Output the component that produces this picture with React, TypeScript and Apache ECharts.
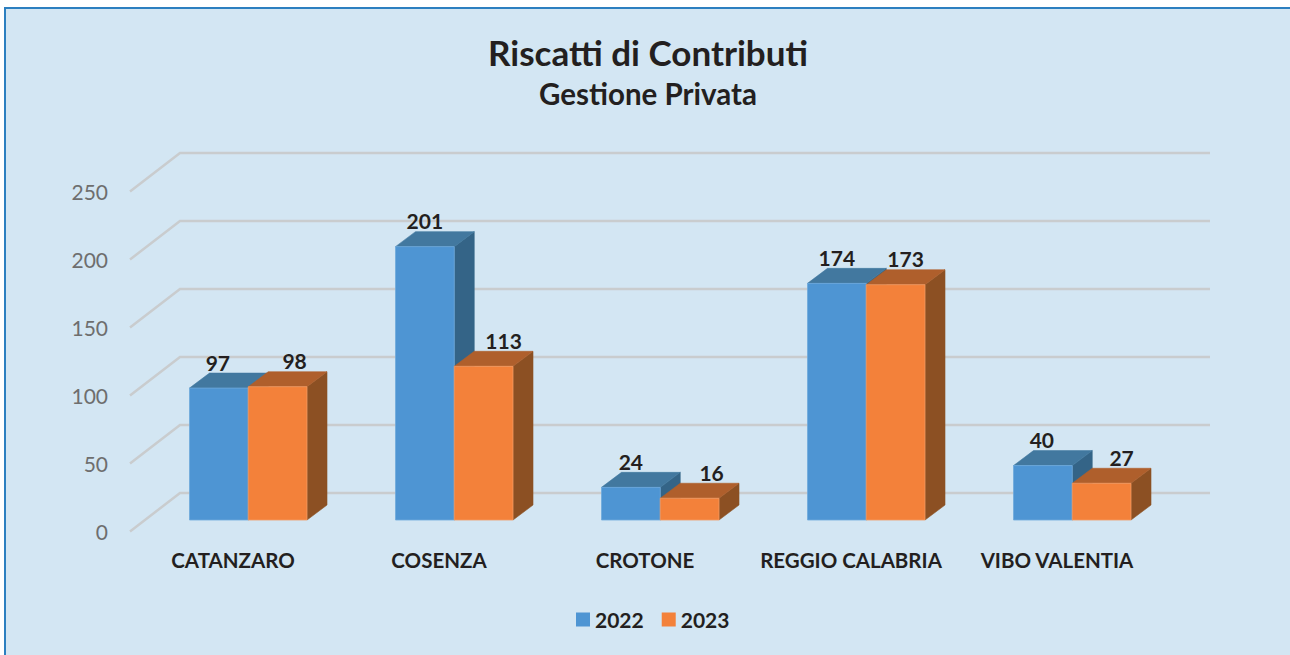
import React, { useEffect, useRef } from "react";
import * as echarts from "echarts";

const categories = ["CATANZARO", "COSENZA", "CROTONE", "REGGIO CALABRIA", "VIBO VALENTIA"];
const values2022 = [97, 201, 24, 174, 40];
const values2023 = [98, 113, 16, 173, 27];
const yTicks = [0, 50, 100, 150, 200, 250];
const labelNudge2022 = [-1, 0, 0, 0, -1];
const labelNudge2023 = [17, 20, 22, 10, 20];

const FONT = "Lato, sans-serif";
const INK = "#231F20";
const BAR_RATIO = 58.75 / 206;
const DEPTH_X = 20;
const DEPTH_Y = 15;
const FLOOR_X = 15.25;
const FLOOR_Y = -11.5;
const WALL_X = 50;
const WALL_Y = 38.5;

type Palette = { front: string; top: string; side: string; edge: string };
const BLUE: Palette = { front: "#4E95D3", top: "#42789F", side: "#346487", edge: "#6FA9DC" };
const ORANGE: Palette = { front: "#F3813A", top: "#AF5F2C", side: "#8C5023", edge: "#F29A63" };

const poly = (points: number[][], fill: string, stroke: string) => ({
  type: "polygon",
  shape: { points },
  style: { fill, stroke, lineWidth: 0.6 },
});

function barRenderer(palette: Palette, slot: number, nudges: number[]) {
  return (_params: any, api: any) => {
    const idx = api.value(0);
    const val = api.value(1);
    const top = api.coord([idx, val]);
    const base = api.coord([idx, 0]);
    const w = api.size([1, 0])[0] * BAR_RATIO;
    const x0 = top[0] + FLOOR_X + (slot - 1) * w;
    const x1 = x0 + w;
    const yT = top[1] + FLOOR_Y;
    const yB = base[1] + FLOOR_Y;
    return {
      type: "group",
      children: [
        poly([[x1, yT], [x1 + DEPTH_X, yT - DEPTH_Y], [x1 + DEPTH_X, yB - DEPTH_Y], [x1, yB]], palette.side, palette.side),
        poly([[x0, yT], [x0 + DEPTH_X, yT - DEPTH_Y], [x1 + DEPTH_X, yT - DEPTH_Y], [x1, yT]], palette.top, palette.top),
        {
          type: "rect",
          shape: { x: x0, y: yT, width: w, height: yB - yT },
          style: { fill: palette.front, stroke: palette.edge, lineWidth: 0.8 },
        },
        {
          type: "text",
          style: {
            text: String(val),
            x: (x0 + x1) / 2 + nudges[idx],
            y: yT - DEPTH_Y - 11,
            align: "center",
            verticalAlign: "middle",
            fill: INK,
            font: `bold 21px ${FONT}`,
          },
        },
      ],
    };
  };
}

function gridRenderer(params: any, api: any) {
  const cs = params.coordSys;
  const y = api.coord([0, api.value(0)])[1];
  return {
    type: "polyline",
    shape: {
      points: [
        [cs.x, y],
        [cs.x + WALL_X, y - WALL_Y],
        [cs.x + cs.width + WALL_X, y - WALL_Y],
      ],
    },
    style: { fill: "none", stroke: "#C9CCCE", lineWidth: 2.5 },
  };
}

export default function App() {
  const ref = useRef<HTMLDivElement>(null);
  useEffect(() => {
    const chart = echarts.init(ref.current!, undefined, { renderer: "svg" });
    chart.setOption({
      animation: false,
      backgroundColor: "#FFFFFF",
      graphic: [
        {
          type: "rect",
          z: -10,
          shape: { x: 5, y: 8, width: 1320, height: 680 },
          style: { fill: "#D3E6F3", stroke: "#2C7FC0", lineWidth: 2 },
        },
      ],
      title: [
        {
          text: "Riscatti di Contributi",
          left: 643,
          top: 29.5,
          textAlign: "center",
          textStyle: { fontFamily: FONT, fontWeight: "bold", fontSize: 35, color: INK },
        },
        {
          text: "Gestione Privata",
          left: 643,
          top: 73,
          textAlign: "center",
          textStyle: { fontFamily: FONT, fontWeight: "bold", fontSize: 29.5, color: INK },
        },
      ],
      legend: {
        left: 571,
        top: 604,
        data: ["2022", "2023"],
        icon: "rect",
        itemWidth: 14,
        itemHeight: 14,
        itemGap: 18,
        textStyle: { fontFamily: FONT, fontWeight: "bold", fontSize: 21, color: INK },
      },
      grid: { left: 130, top: 191.5, width: 1030, height: 340 },
      xAxis: {
        type: "category",
        data: categories,
        axisLine: { show: false },
        axisTick: { show: false },
        axisLabel: { interval: 0, margin: 18, fontFamily: FONT, fontWeight: "bold", fontSize: 20.5, color: INK },
      },
      yAxis: {
        type: "value",
        min: 0,
        max: yTicks[yTicks.length - 1],
        interval: 50,
        axisLine: { show: false },
        axisTick: { show: false },
        splitLine: { show: false },
        axisLabel: { margin: 22, fontFamily: FONT, fontSize: 21, color: "#6E6E6E" },
      },
      series: [
        {
          type: "custom",
          name: "grid",
          silent: true,
          clip: false,
          z: 1,
          data: yTicks.map((t) => [t]),
          encode: { y: 0 },
          renderItem: gridRenderer,
        },
        {
          type: "custom",
          name: "2022",
          clip: false,
          z: 2,
          itemStyle: { color: BLUE.front },
          data: values2022.map((v, i) => [i, v]),
          encode: { x: 0, y: 1 },
          renderItem: barRenderer(BLUE, 0, labelNudge2022),
        },
        {
          type: "custom",
          name: "2023",
          clip: false,
          z: 3,
          itemStyle: { color: ORANGE.front },
          data: values2023.map((v, i) => [i, v]),
          encode: { x: 0, y: 1 },
          renderItem: barRenderer(ORANGE, 1, labelNudge2023),
        },
      ],
    });
    return () => chart.dispose();
  }, []);
  return (
    <div style={{ position: "absolute", left: 0, top: 0, width: 1290, height: 655, overflow: "hidden" }}>
      <div ref={ref} style={{ width: 1290, height: 655 }} />
    </div>
  );
}
